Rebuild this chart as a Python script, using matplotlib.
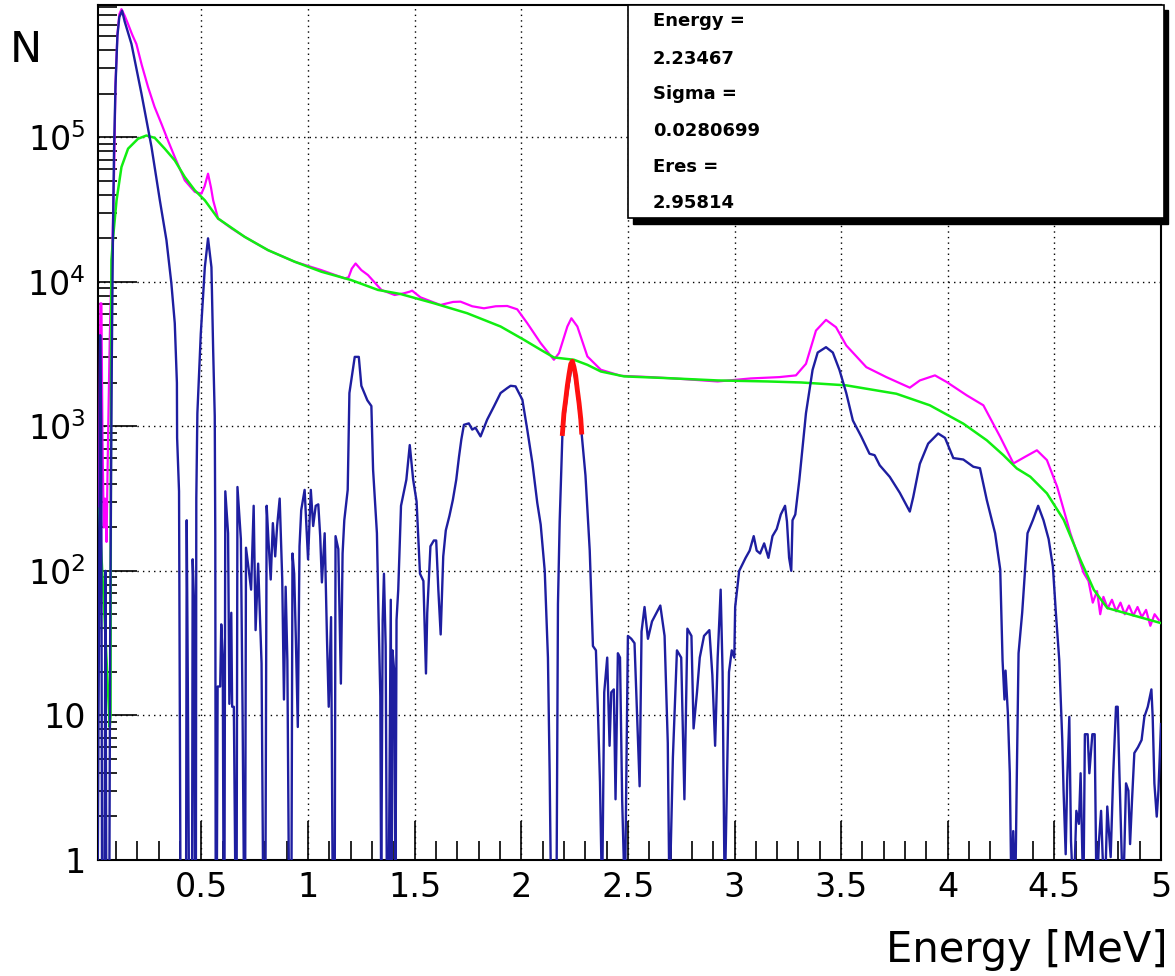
import numpy as np
import matplotlib
matplotlib.use("Agg")
import matplotlib.pyplot as plt
from matplotlib.ticker import FixedLocator, FixedFormatter, MultipleLocator, LogLocator, NullFormatter
from matplotlib.patches import Rectangle

plt.rcParams['font.family'] = ['DejaVu Sans']
plt.rcParams['mathtext.fontset'] = 'dejavusans'

# values as log10(N); -0.3 means "down to the bottom"
# total spectrum (magenta)
mag_e = [0.013, 0.02, 0.026, 0.031, 0.036, 0.042, 0.048, 0.055, 0.062, 0.07, 0.076, 0.081, 0.091, 0.097,
         0.106, 0.115, 0.125, 0.14, 0.156, 0.175, 0.195, 0.22, 0.25, 0.28, 0.3125, 0.345, 0.375, 0.422, 0.469,
         0.5, 0.515, 0.531, 0.545, 0.555, 0.578, 0.64, 0.703, 0.8125, 0.9375, 1.0625, 1.172, 1.19, 1.205,
         1.223, 1.25, 1.281, 1.344, 1.406, 1.45, 1.477, 1.488, 1.527, 1.621, 1.68, 1.715, 1.77, 1.825, 1.88,
         1.934, 1.981, 2.028, 2.091, 2.153, 2.177, 2.216, 2.235, 2.263, 2.31, 2.373, 2.467, 2.607, 2.764,
         2.921, 3.077, 3.21, 3.288, 3.335, 3.382, 3.429, 3.476, 3.524, 3.618, 3.712, 3.822, 3.869, 3.94,
         3.995, 4.089, 4.167, 4.246, 4.308, 4.363, 4.418, 4.465, 4.513, 4.575, 4.638, 4.66, 4.68, 4.70,
         4.715, 4.73, 4.75, 4.77, 4.79, 4.81, 4.83, 4.85, 4.87, 4.89, 4.91, 4.93, 4.95, 4.97, 4.99]
mag_lg = [2.4, 2.6, 3.85, 3.85, 2.9, 2.3, 2.5, 2.2, 2.9, 3.6, 3.95, 4.17, 4.79, 5.37,
          5.71, 5.85, 5.885, 5.84, 5.782, 5.71, 5.644, 5.50, 5.345, 5.21, 5.092, 4.97, 4.862, 4.701, 4.621,
          4.609, 4.66, 4.747, 4.65, 4.563, 4.437, 4.37, 4.31, 4.218, 4.138, 4.08, 4.023, 4.03, 4.09,
          4.126, 4.08, 4.046, 3.943, 3.908, 3.92, 3.931, 3.938, 3.892, 3.839, 3.86, 3.862, 3.83, 3.816, 3.83,
          3.832, 3.809, 3.713, 3.575, 3.46, 3.506, 3.69, 3.747, 3.69, 3.483, 3.391, 3.349, 3.34, 3.326,
          3.31, 3.331, 3.34, 3.352, 3.432, 3.662, 3.736, 3.685, 3.559, 3.409, 3.34, 3.267, 3.317, 3.352,
          3.306, 3.214, 3.145, 2.926, 2.743, 2.789, 2.834, 2.766, 2.582, 2.26, 1.984, 1.93, 1.78, 1.86,
          1.70, 1.82, 1.74, 1.80, 1.72, 1.78, 1.70, 1.76, 1.69, 1.75, 1.68, 1.73, 1.62, 1.70, 1.66]

# background fit (green)
grn_e = [0.02, 0.045, 0.07, 0.074, 0.076, 0.078, 0.086, 0.102, 0.125, 0.156, 0.203, 0.242, 0.281, 0.328,
         0.375, 0.422, 0.469, 0.516, 0.578, 0.703, 0.8125, 0.9375, 1.0625, 1.203, 1.328, 1.433, 1.59,
         1.746, 1.903, 2.0125, 2.091, 2.153, 2.247, 2.31, 2.373, 2.482, 2.686, 2.921, 3.155, 3.312,
         3.524, 3.759, 3.916, 4.073, 4.183, 4.261, 4.324, 4.387, 4.465, 4.544, 4.622, 4.685, 4.748,
         4.858, 4.999]
grn_lg = [2.43, 1.7, 0.92, 1.0, 3.5, 4.149, 4.31, 4.563, 4.793, 4.92, 4.989, 5.011, 4.995, 4.92,
          4.839, 4.724, 4.632, 4.563, 4.437, 4.31, 4.218, 4.138, 4.069, 4.011, 3.943, 3.915, 3.851,
          3.782, 3.69, 3.598, 3.529, 3.476, 3.46, 3.425, 3.379, 3.345, 3.333, 3.317, 3.31, 3.303,
          3.283, 3.225, 3.145, 3.018, 2.903, 2.8, 2.708, 2.651, 2.536, 2.352, 2.076, 1.869, 1.743,
          1.697, 1.639]

# background-subtracted spectrum (blue)
blu_e = [0.013, 0.02, 0.025, 0.03, 0.034, 0.045, 0.05, 0.054, 0.068, 0.072, 0.076, 0.080, 0.085, 0.09,
         0.097, 0.106, 0.115, 0.128, 0.14, 0.172, 0.219, 0.266, 0.305, 0.336, 0.359, 0.375, 0.385, 0.386,
         0.395, 0.402, 0.428, 0.431, 0.436, 0.442, 0.456, 0.459, 0.465, 0.47, 0.474, 0.476, 0.481, 0.497,
         0.516, 0.531, 0.547, 0.555, 0.5625, 0.565, 0.567, 0.572, 0.576, 0.588, 0.593, 0.600, 0.604, 0.608,
         0.612, 0.625, 0.631, 0.640, 0.644, 0.652, 0.660, 0.665, 0.669, 0.685, 0.693, 0.700, 0.705, 0.709,
         0.720, 0.733, 0.745, 0.754, 0.766, 0.782, 0.790, 0.800, 0.806, 0.814, 0.825, 0.835, 0.846, 0.855,
         0.867, 0.879, 0.887, 0.895, 0.903, 0.911, 0.922, 0.927, 0.935, 0.943, 0.952, 0.960, 0.968, 0.984,
         1.000, 1.013, 1.024, 1.036, 1.048, 1.057, 1.065, 1.078, 1.089, 1.097, 1.108, 1.116, 1.125, 1.129,
         1.142, 1.154, 1.162, 1.170, 1.186, 1.194, 1.219, 1.238, 1.25, 1.278, 1.297, 1.305, 1.323, 1.331,
         1.339, 1.343, 1.35, 1.356, 1.364, 1.370, 1.378, 1.388, 1.392, 1.396, 1.404, 1.41, 1.415, 1.423,
         1.436, 1.461, 1.477, 1.493, 1.509, 1.525, 1.541, 1.553, 1.559, 1.574, 1.590, 1.601, 1.611, 1.622,
         1.634, 1.646, 1.663, 1.679, 1.695, 1.708, 1.719, 1.731, 1.754, 1.77, 1.785, 1.809, 1.84, 1.872,
         1.903, 1.934, 1.95, 1.973, 2.005, 2.028, 2.052, 2.075, 2.091, 2.11, 2.125, 2.133, 2.14, 2.165,
         2.172, 2.18, 2.193, 2.216, 2.24, 2.263, 2.283, 2.301, 2.321, 2.336, 2.35, 2.36, 2.369, 2.379,
         2.389, 2.403, 2.414, 2.422, 2.434, 2.442, 2.453, 2.463, 2.473, 2.486, 2.5, 2.516, 2.531, 2.545,
         2.555, 2.564, 2.578, 2.594, 2.613, 2.652, 2.672, 2.687, 2.695, 2.711, 2.73, 2.75, 2.765, 2.779,
         2.798, 2.808, 2.824, 2.837, 2.857, 2.882, 2.896, 2.909, 2.921, 2.935, 2.944, 2.954, 2.974, 2.987,
         2.999, 3.003, 3.022, 3.052, 3.071, 3.09, 3.104, 3.12, 3.139, 3.159, 3.178, 3.198, 3.217, 3.237,
         3.246, 3.256, 3.266, 3.272, 3.285, 3.304, 3.335, 3.366, 3.39, 3.429, 3.461, 3.492, 3.524, 3.555,
         3.594, 3.633, 3.657, 3.681, 3.728, 3.775, 3.822, 3.838, 3.869, 3.908, 3.955, 3.987, 4.026, 4.073,
         4.12, 4.151, 4.183, 4.222, 4.246, 4.257, 4.266, 4.271, 4.282, 4.291, 4.299, 4.307, 4.316, 4.324,
         4.332, 4.349, 4.374, 4.399, 4.424, 4.449, 4.473, 4.493, 4.507, 4.523, 4.537, 4.543, 4.553, 4.56,
         4.57, 4.578, 4.59, 4.603, 4.615, 4.623, 4.636, 4.643, 4.656, 4.664, 4.678, 4.689, 4.698, 4.709,
         4.719, 4.726, 4.736, 4.748, 4.764, 4.776, 4.789, 4.797, 4.805, 4.814, 4.822, 4.836, 4.847, 4.855,
         4.864, 4.875, 4.892, 4.909, 4.922, 4.938, 4.955, 4.961, 4.969, 4.98, 4.988, 5.0]
blu_lg = [-0.3, 1.7, 3.63, 3.0, -0.3, -0.3, 2.0, -0.3, -0.3, 1.5, 2.6, 3.5, 4.3, 4.9,
          5.35, 5.7, 5.83, 5.874, 5.80, 5.644, 5.299, 4.931, 4.563, 4.287, 3.989, 3.713, 3.3, 2.92,
          2.55, -0.3, -0.3, 2.35, 1.27, -0.3, -0.3, 2.08, 1.8, -0.3, -0.3, 2.5, 3.09, 3.64,
          4.10, 4.30, 4.10, 3.53, 3.07, 2.24, -0.3, -0.3, 1.20, 1.20, 1.63, 1.4, -0.3, -0.3,
          2.55, 2.26, 1.08, 1.71, 1.06, 1.06, -0.3, -0.3, 2.58, 2.22, 1.02, -0.3, -0.3, 2.16,
          2.03, 1.87, 2.45, 1.59, 2.05, 1.36, -0.3, -0.3, 2.45, 2.22, 1.94, 2.33, 2.10, 2.31,
          2.50, 1.94, 1.11, 1.89, 1.38, -0.3, -0.3, 2.12, 1.98, 1.52, 0.92, 2.17, 2.42, 2.56,
          2.08, 2.56, 2.31, 2.45, 2.46, 2.24, 1.92, 2.26, 1.52, 1.06, 1.68, -0.3, -0.3, 2.24,
          2.15, 1.22, 2.12, 2.35, 2.56, 3.23, 3.48, 3.48, 3.28, 3.18, 3.14, 2.70, 2.26, 1.66,
          1.13, -0.3, 1.66, 1.98, 1.48, -0.3, -0.3, 1.80, -0.3, 1.45, 1.31, -0.3, 1.66, 1.87,
          2.45, 2.63, 2.87, 2.63, 2.48, 1.98, 1.93, 1.29, 1.71, 2.17, 2.21, 2.21, 1.87, 1.56,
          2.10, 2.28, 2.38, 2.49, 2.63, 2.79, 2.91, 3.01, 3.02, 2.977, 2.99, 2.93, 3.046, 3.138,
          3.23, 3.264, 3.28, 3.276, 3.184, 2.977, 2.747, 2.47, 2.32, 2.0, 1.40, 0.61, -0.3, -0.3,
          1.77, 2.34, 2.95, 3.23, 3.448, 3.23, 2.95, 2.66, 2.14, 1.48, 1.45, 1.0, 0.54, -0.3,
          1.16, 1.40, 0.79, 1.16, 1.18, 0.42, 1.43, 1.40, 0.42, -0.3, 1.55, 1.53, 1.50, 0.91,
          0.51, 1.58, 1.75, 1.53, 1.65, 1.76, 1.55, 0.81, -0.3, 0.71, 1.45, 1.40, 0.42, 1.60,
          1.55, 0.91, 1.16, 1.40, 1.55, 1.59, 1.28, 0.79, 1.40, 1.87, 1.30, -0.3, 1.30, 1.45,
          1.40, 1.75, 2.0, 2.09, 2.14, 2.24, 2.14, 2.12, 2.19, 2.09, 2.24, 2.29, 2.39, 2.45,
          2.34, 2.09, 2.0, 2.35, 2.39, 2.63, 3.09, 3.39, 3.51, 3.547, 3.51, 3.39, 3.23, 3.04,
          2.93, 2.81, 2.80, 2.73, 2.65, 2.54, 2.41, 2.51, 2.74, 2.88, 2.95, 2.92, 2.78, 2.77,
          2.72, 2.71, 2.49, 2.26, 2.01, 1.38, 1.11, 1.31, 1.01, 0.60, -0.3, 0.20, -0.3, 0.60,
          1.43, 1.71, 2.26, 2.35, 2.45, 2.35, 2.22, 2.03, 1.71, 1.38, 0.83, 0.48, 0.04, 0.55,
          0.99, 0.13, -0.3, 0.34, 0.25, 0.60, -0.3, 0.87, 0.87, 0.60, 0.87, 0.87, -0.3, 0.13,
          0.34, 0.04, -0.3, 0.37, 0.02, 0.60, 1.06, 1.06, 0.60, 0.13, -0.3, 0.53, 0.48, 0.11,
          0.41, 0.74, 0.78, 0.83, 0.99, 1.06, 1.18, 0.99, 0.53, 0.30, 0.48, 0.94]

# gaussian fit of the 2.2 MeV line (red)
red_e = [2.193, 2.200, 2.208, 2.216, 2.224, 2.232, 2.2395, 2.247, 2.255, 2.263, 2.271, 2.279, 2.283]
red_lg = [2.95, 3.09, 3.18, 3.28, 3.36, 3.43, 3.45, 3.41, 3.35, 3.25, 3.16, 3.05, 2.96]

stats_lines = ["Energy =", "2.23467", "Sigma =", "0.0280699", "Eres =", "2.95814"]

ytick_vals = [1, 10, 100, 1e3, 1e4, 1e5]
ytick_txt = ['1', '10', r'$\mathregular{10^{2}}$', r'$\mathregular{10^{3}}$',
             r'$\mathregular{10^{4}}$', r'$\mathregular{10^{5}}$']
xtick_vals = [0.5, 1, 1.5, 2, 2.5, 3, 3.5, 4, 4.5, 5]
xtick_txt = ['0.5', '1', '1.5', '2', '2.5', '3', '3.5', '4', '4.5', '5']

fig = plt.figure(figsize=(11.75, 9.76), dpi=100)
ax = fig.add_axes([98/1175, 116/976, 1063/1175, 855/976])

ax.plot(mag_e, np.power(10.0, mag_lg), color='#ff00ff', lw=1.6, zorder=3)
ax.plot(grn_e, np.power(10.0, grn_lg), color='#11ee11', lw=1.8, zorder=4)
ax.plot(blu_e, np.power(10.0, blu_lg), color='#1e1ea0', lw=1.7, zorder=5)
ax.plot(red_e, np.power(10.0, red_lg), color='#ff1010', lw=3.5, zorder=6)

ax.set_yscale('log')
ax.set_xlim(0.015, 5.0)
ax.set_ylim(1, 8.2e5)

ax.yaxis.set_major_locator(FixedLocator(ytick_vals))
ax.yaxis.set_major_formatter(FixedFormatter(ytick_txt))
ax.yaxis.set_minor_locator(LogLocator(base=10, subs=np.arange(2, 10)))
ax.yaxis.set_minor_formatter(NullFormatter())
ax.xaxis.set_major_locator(FixedLocator(xtick_vals))
ax.xaxis.set_major_formatter(FixedFormatter(xtick_txt))
ax.xaxis.set_minor_locator(MultipleLocator(0.1))

ax.tick_params(which='both', direction='in', top=False, right=False, width=1.2, colors='black')
ax.tick_params(which='major', length=28, labelsize=24)
ax.tick_params(which='minor', length=14)
ax.tick_params(axis='x', pad=8)
ax.tick_params(axis='y', pad=9)

ax.grid(True, which='major', color='black', linestyle=(0, (1, 3)), linewidth=1.0)
ax.set_axisbelow(True)
for sp in ax.spines.values():
    sp.set_linewidth(1.5)

# stats box with ROOT-like shadow
ax.add_patch(Rectangle((0.503, 0.744), 0.504, 0.25, transform=ax.transAxes,
                       facecolor='black', edgecolor='black', zorder=9, clip_on=False))
ax.add_patch(Rectangle((0.4986, 0.751), 0.504, 0.249, transform=ax.transAxes,
                       facecolor='white', edgecolor='black', lw=1.2, zorder=10, clip_on=False))
ys = [0.981, 0.937, 0.896, 0.853, 0.811, 0.769]
for t, yy in zip(stats_lines, ys):
    ax.text(0.522, yy, t, transform=ax.transAxes, fontsize=13, fontweight='bold',
            va='center', ha='left', zorder=11)

fig.text(10/1175, 1 - 50/976, 'N', fontsize=31, va='center', ha='left')
fig.text(1168/1175, 1 - 950/976, 'Energy [MeV]', fontsize=30, va='center', ha='right')

fig.savefig('out.png', dpi=100)
